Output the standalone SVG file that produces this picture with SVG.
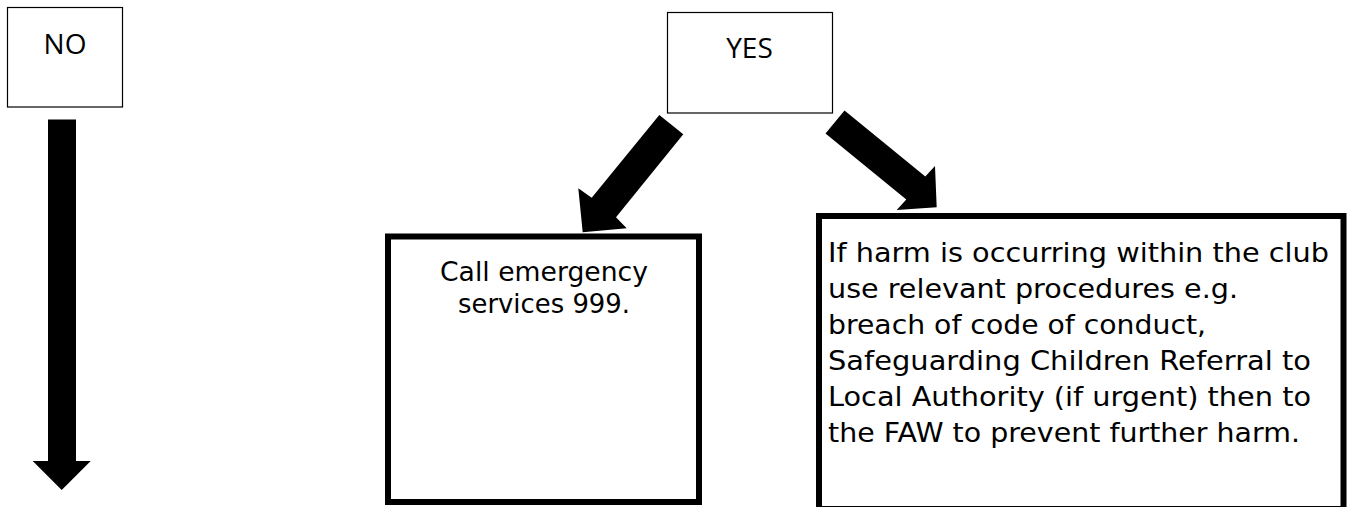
<svg xmlns="http://www.w3.org/2000/svg" width="1349" height="507" viewBox="0 0 1349 507">
<style>
.thin{fill:#fff;stroke:#000;stroke-width:1.2}
.thick{fill:#fff;stroke:#000;stroke-width:6}
.lbl{font-family:"Open Sans","Liberation Sans",sans-serif;font-size:28px;fill:#000;text-anchor:middle}
.body{font-family:"DejaVu Sans","Liberation Sans",sans-serif;font-size:26.5px;fill:#000}
.arr{fill:#000;stroke:none}
</style>
<rect x="0" y="0" width="1349" height="507" fill="#fff"/>
<g id="no">
<rect class="thin" x="7.5" y="7.5" width="115" height="99.5"/>
<text class="lbl" x="65" y="54">NO</text>
</g>
<g id="yes">
<rect class="thin" x="667.5" y="12.5" width="165" height="100.5"/>
<text class="lbl" x="749.5" y="57.5">YES</text>
</g>
<g id="emergency">
<rect class="thick" x="388" y="236.5" width="311" height="265.5"/>
<text class="body" text-anchor="middle"><tspan x="544" y="281" textLength="208" lengthAdjust="spacingAndGlyphs">Call emergency</tspan><tspan x="544" y="313" textLength="172" lengthAdjust="spacingAndGlyphs">services 999.</tspan></text>
</g>
<g id="harm">
<rect class="thick" x="819" y="216" width="524.5" height="293"/>
<text class="body"><tspan x="828" y="262" textLength="501" lengthAdjust="spacingAndGlyphs">If harm is occurring within the club</tspan><tspan x="828" y="298" textLength="410" lengthAdjust="spacingAndGlyphs">use relevant procedures e.g.</tspan><tspan x="828" y="334" textLength="378" lengthAdjust="spacingAndGlyphs">breach of code of conduct,</tspan><tspan x="828" y="370" textLength="483" lengthAdjust="spacingAndGlyphs">Safeguarding Children Referral to</tspan><tspan x="828" y="406" textLength="483" lengthAdjust="spacingAndGlyphs">Local Authority (if urgent) then to</tspan><tspan x="828" y="442" textLength="472" lengthAdjust="spacingAndGlyphs">the FAW to prevent further harm.</tspan></text>
</g>
<g id="connectors">
<polygon class="arr" points="48,119.5 76,119.5 76,461 90.7,461 61.7,490 32.7,461 48,461"/>
<polygon class="arr" points="659.3,115 683.3,134.3 616,217.3 626.7,228.3 582.7,232.3 578.3,188.3 591.7,197.7"/>
<polygon class="arr" points="844.5,110.4 925.3,176.4 935,166 936.7,207.3 896.7,210 906.3,199.6 825.5,133.6"/>
</g>
</svg>
